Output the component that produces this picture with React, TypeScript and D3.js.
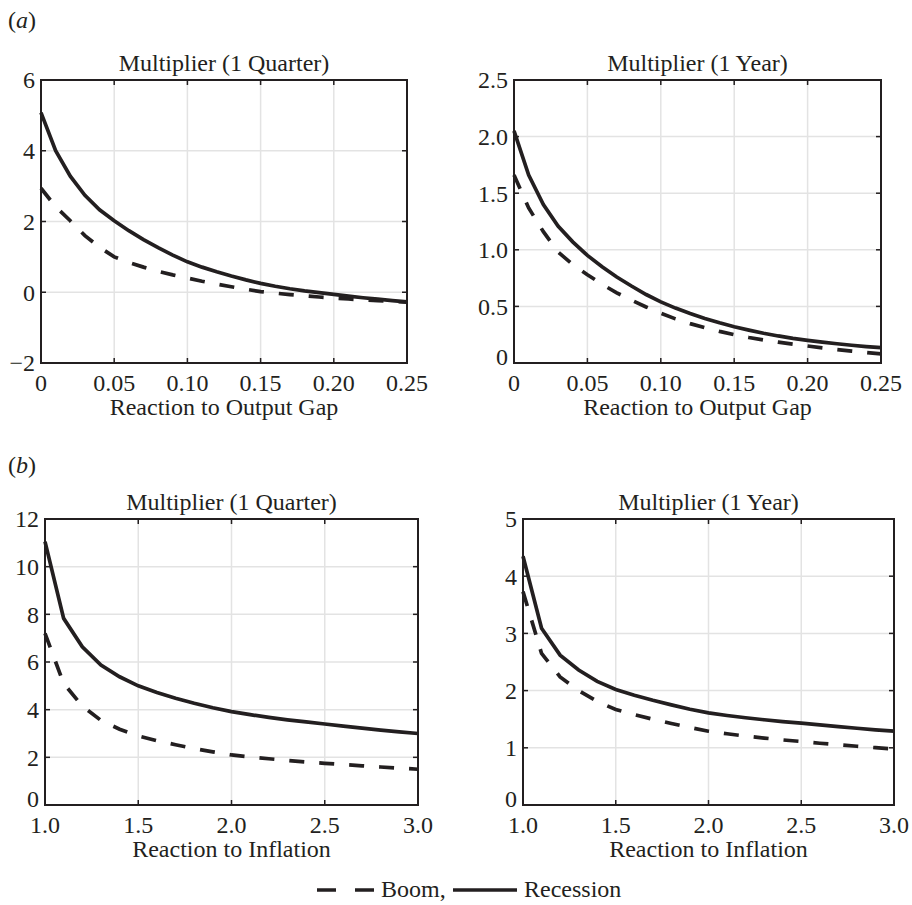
import React from "react";
import * as d3 from "d3";

// ---------- data ----------
const gapX = [0, 0.01, 0.02, 0.03, 0.04, 0.05, 0.06, 0.07, 0.08, 0.09, 0.10, 0.11, 0.12, 0.13, 0.14, 0.15, 0.16, 0.17, 0.18, 0.19, 0.20, 0.21, 0.22, 0.23, 0.24, 0.25];
const gapQuarterRecession = [5.08, 4.0, 3.28, 2.74, 2.33, 2.02, 1.74, 1.49, 1.26, 1.05, 0.86, 0.71, 0.58, 0.46, 0.35, 0.25, 0.17, 0.10, 0.04, -0.01, -0.06, -0.11, -0.155, -0.195, -0.235, -0.27];
const gapQuarterBoom = [2.94, 2.42, 2.02, 1.6, 1.27, 1.0, 0.84, 0.71, 0.59, 0.49, 0.40, 0.31, 0.23, 0.155, 0.085, 0.02, -0.025, -0.065, -0.10, -0.135, -0.165, -0.19, -0.215, -0.24, -0.26, -0.28];
const gapYearRecession = [2.05, 1.66, 1.40, 1.21, 1.07, 0.95, 0.85, 0.76, 0.68, 0.605, 0.54, 0.485, 0.437, 0.394, 0.355, 0.32, 0.29, 0.263, 0.239, 0.218, 0.20, 0.184, 0.17, 0.157, 0.145, 0.135];
const gapYearBoom = [1.66, 1.37, 1.16, 0.98, 0.87, 0.78, 0.695, 0.62, 0.555, 0.495, 0.44, 0.39, 0.348, 0.312, 0.279, 0.25, 0.225, 0.203, 0.184, 0.166, 0.15, 0.134, 0.119, 0.105, 0.092, 0.08];

const inflX = [1.0, 1.1, 1.2, 1.3, 1.4, 1.5, 1.6, 1.7, 1.8, 1.9, 2.0, 2.1, 2.2, 2.3, 2.4, 2.5, 2.6, 2.7, 2.8, 2.9, 3.0];
const inflQuarterRecession = [11.05, 7.83, 6.64, 5.87, 5.38, 5.0, 4.72, 4.48, 4.27, 4.08, 3.92, 3.79, 3.675, 3.575, 3.485, 3.40, 3.31, 3.225, 3.145, 3.07, 3.0];
const inflQuarterBoom = [7.2, 5.1, 4.15, 3.55, 3.18, 2.9, 2.7, 2.53, 2.37, 2.23, 2.10, 2.015, 1.94, 1.87, 1.805, 1.75, 1.695, 1.645, 1.595, 1.547, 1.5];
const inflYearRecession = [4.35, 3.09, 2.62, 2.36, 2.16, 2.02, 1.92, 1.83, 1.75, 1.675, 1.61, 1.565, 1.525, 1.49, 1.458, 1.43, 1.40, 1.37, 1.342, 1.315, 1.29];
const inflYearBoom = [3.73, 2.65, 2.24, 2.0, 1.81, 1.67, 1.58, 1.50, 1.425, 1.355, 1.29, 1.245, 1.205, 1.17, 1.138, 1.11, 1.08, 1.053, 1.027, 1.002, 0.98];

const gapXTicks = [0, 0.05, 0.10, 0.15, 0.20, 0.25];
const gapXTickLabels = ["0", "0.05", "0.10", "0.15", "0.20", "0.25"];
const gapQuarterYTicks = [-2, 0, 2, 4, 6];
const gapQuarterYTickLabels = ["\u22122", "0", "2", "4", "6"];
const gapYearYTicks = [0, 0.5, 1.0, 1.5, 2.0, 2.5];
const gapYearYTickLabels = ["0", "0.5", "1.0", "1.5", "2.0", "2.5"];
const inflXTicks = [1.0, 1.5, 2.0, 2.5, 3.0];
const inflXTickLabels = ["1.0", "1.5", "2.0", "2.5", "3.0"];
const inflQuarterYTicks = [0, 2, 4, 6, 8, 10, 12];
const inflQuarterYTickLabels = ["0", "2", "4", "6", "8", "10", "12"];
const inflYearYTicks = [0, 1, 2, 3, 4, 5];
const inflYearYTickLabels = ["0", "1", "2", "3", "4", "5"];

const seriesNames = ["Boom,", "Recession"];

const FONT = "'Liberation Serif', 'Times New Roman', serif";
const FS = 24;
const INK = "#231f20";

type PanelProps = {
  left: number; right: number; top: number; bottom: number;
  title: string; xLabel: string;
  xs: number[]; boom: number[]; recession: number[];
  xDomain: [number, number]; yDomain: [number, number];
  xTicks: number[]; xTickLabels: string[];
  yTicks: number[]; yTickLabels: string[];
};

function Panel(p: PanelProps) {
  const x = d3.scaleLinear().domain(p.xDomain).range([p.left, p.right]);
  const y = d3.scaleLinear().domain(p.yDomain).range([p.bottom, p.top]);
  const line = d3.line<[number, number]>().x((d) => x(d[0])).y((d) => y(d[1]));
  const boomPts = p.xs.map((v, i) => [v, p.boom[i]] as [number, number]);
  const recPts = p.xs.map((v, i) => [v, p.recession[i]] as [number, number]);
  const tl = 5;
  return (
    <g>
      {p.xTicks.map((t, i) => (
        <line key={"gx" + i} x1={x(t)} x2={x(t)} y1={p.top} y2={p.bottom} stroke="#e3e3e3" strokeWidth={1.5} />
      ))}
      {p.yTicks.map((t, i) => (
        <line key={"gy" + i} x1={p.left} x2={p.right} y1={y(t)} y2={y(t)} stroke="#e3e3e3" strokeWidth={1.5} />
      ))}
      {p.xTicks.map((t, i) => (
        <g key={"tx" + i}>
          <line x1={x(t)} x2={x(t)} y1={p.bottom} y2={p.bottom - tl} stroke={INK} strokeWidth={1.5} />
          <line x1={x(t)} x2={x(t)} y1={p.top} y2={p.top + tl} stroke={INK} strokeWidth={1.5} />
          <text x={x(t)} y={p.bottom + 28} textAnchor="middle" fontFamily={FONT} fontSize={FS} fill={INK}>{p.xTickLabels[i]}</text>
        </g>
      ))}
      {p.yTicks.map((t, i) => (
        <g key={"ty" + i}>
          <line x1={p.left} x2={p.left + tl} y1={y(t)} y2={y(t)} stroke={INK} strokeWidth={1.5} />
          <line x1={p.right} x2={p.right - tl} y1={y(t)} y2={y(t)} stroke={INK} strokeWidth={1.5} />
          <text x={p.left - 6} y={y(t) - (i === 0 && p.yDomain[0] === 0 ? 6 : 0)} dy="0.35em" textAnchor="end" fontFamily={FONT} fontSize={FS} fill={INK}>{p.yTickLabels[i]}</text>
        </g>
      ))}
      <path d={line(boomPts) || ""} fill="none" stroke={INK} strokeWidth={3.7} strokeDasharray="15,15" />
      <path d={line(recPts) || ""} fill="none" stroke={INK} strokeWidth={3.7} />
      <rect x={p.left} y={p.top} width={p.right - p.left} height={p.bottom - p.top} fill="none" stroke={INK} strokeWidth={2} />
      <text x={(p.left + p.right) / 2} y={p.top - 9} textAnchor="middle" fontFamily={FONT} fontSize={FS} fill={INK}>{p.title}</text>
      <text x={(p.left + p.right) / 2} y={p.bottom + 52} textAnchor="middle" fontFamily={FONT} fontSize={FS} fill={INK}>{p.xLabel}</text>
    </g>
  );
}

export default function App() {
  return (
    <svg width={912} height={905} style={{ position: "absolute", left: 0, top: 0, background: "#fff" }}>
      <rect x={0} y={0} width={912} height={905} fill="#fff" />
      <text x={8} y={28} fontFamily={FONT} fontSize={FS} fill={INK}>(<tspan fontStyle="italic">a</tspan>)</text>
      <text x={8} y={473} fontFamily={FONT} fontSize={FS} fill={INK}>(<tspan fontStyle="italic">b</tspan>)</text>
      <Panel left={41} right={407} top={80} bottom={363} title="Multiplier (1 Quarter)" xLabel="Reaction to Output Gap"
        xs={gapX} boom={gapQuarterBoom} recession={gapQuarterRecession} xDomain={[0, 0.25]} yDomain={[-2, 6]}
        xTicks={gapXTicks} xTickLabels={gapXTickLabels} yTicks={gapQuarterYTicks} yTickLabels={gapQuarterYTickLabels} />
      <Panel left={514} right={881} top={80} bottom={363} title="Multiplier (1 Year)" xLabel="Reaction to Output Gap"
        xs={gapX} boom={gapYearBoom} recession={gapYearRecession} xDomain={[0, 0.25]} yDomain={[0, 2.5]}
        xTicks={gapXTicks} xTickLabels={gapXTickLabels} yTicks={gapYearYTicks} yTickLabels={gapYearYTickLabels} />
      <Panel left={45} right={418} top={519} bottom={805} title="Multiplier (1 Quarter)" xLabel="Reaction to Inflation"
        xs={inflX} boom={inflQuarterBoom} recession={inflQuarterRecession} xDomain={[1, 3]} yDomain={[0, 12]}
        xTicks={inflXTicks} xTickLabels={inflXTickLabels} yTicks={inflQuarterYTicks} yTickLabels={inflQuarterYTickLabels} />
      <Panel left={523} right={894} top={519} bottom={805} title="Multiplier (1 Year)" xLabel="Reaction to Inflation"
        xs={inflX} boom={inflYearBoom} recession={inflYearRecession} xDomain={[1, 3]} yDomain={[0, 5]}
        xTicks={inflXTicks} xTickLabels={inflXTickLabels} yTicks={inflYearYTicks} yTickLabels={inflYearYTickLabels} />
      {/* legend */}
      <line x1={317} x2={375} y1={890} y2={890} stroke={INK} strokeWidth={3.7} strokeDasharray="19,19" />
      <text x={381} y={897} fontFamily={FONT} fontSize={FS} fill={INK}>{seriesNames[0]}</text>
      <line x1={453} x2={517} y1={890} y2={890} stroke={INK} strokeWidth={3.7} />
      <text x={524} y={897} fontFamily={FONT} fontSize={FS} fill={INK}>{seriesNames[1]}</text>
    </svg>
  );
}
